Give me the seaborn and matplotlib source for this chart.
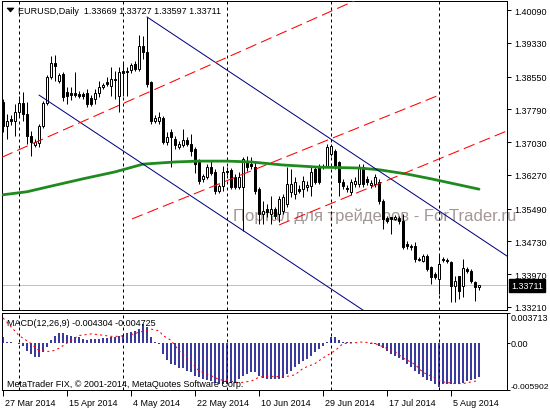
import numpy as np
import matplotlib
matplotlib.use("Agg")
import matplotlib.pyplot as plt
import matplotlib.transforms as mtransforms
from matplotlib.patches import Polygon
import seaborn as sns

sns.set_theme(style="white")
plt.rcParams["font.family"] = ["Liberation Sans", "DejaVu Sans"]
plt.rcParams["axes.linewidth"] = 0.72

W, H = 550, 410
FS = 6.5

# EURUSD daily bars, 27 Mar 2014 .. 13 Aug 2014 (bar 0 .. 119)
opens = [
    1.3796, 1.3740, 1.3757, 1.3752, 1.3773, 1.3794, 1.3768, 1.3717, 1.3696, 1.3701,
    1.3740, 1.3794, 1.3854, 1.3886, 1.3845, 1.3861, 1.3819, 1.3817, 1.3817, 1.3815,
    1.3815, 1.3817, 1.3805, 1.3803, 1.3817, 1.3831, 1.3842, 1.3833, 1.3849, 1.3810,
    1.3868, 1.3868, 1.3870, 1.3884, 1.3872, 1.3926, 1.3912, 1.3842, 1.3752, 1.3752,
    1.3759, 1.3703, 1.3727, 1.3710, 1.3692, 1.3696, 1.3708, 1.3699, 1.3687, 1.3657,
    1.3618, 1.3622, 1.3645, 1.3634, 1.3590, 1.3601, 1.3636, 1.3639, 1.3622, 1.3599,
    1.3599, 1.3659, 1.3652, 1.3645, 1.3594, 1.3537, 1.3548, 1.3537, 1.3548, 1.3537,
    1.3544, 1.3560, 1.3588, 1.3583, 1.3594, 1.3594, 1.3599, 1.3601, 1.3641, 1.3648,
    1.3645, 1.3648, 1.3675, 1.3682, 1.3657, 1.3611, 1.3597, 1.3588, 1.3606, 1.3606,
    1.3645, 1.3618, 1.3604, 1.3606, 1.3611, 1.3567, 1.3527, 1.3530, 1.3525, 1.3527,
    1.3520, 1.3467, 1.3462, 1.3462, 1.3432, 1.3428, 1.3439, 1.3414, 1.3398, 1.3386,
    1.3432, 1.3430, 1.3425, 1.3370, 1.3393, 1.3370, 1.3409, 1.3405, 1.3379, 1.33669,
]
closes = [
    1.3740, 1.3752, 1.3752, 1.3773, 1.3794, 1.3768, 1.3717, 1.3703, 1.3703, 1.3740,
    1.3794, 1.3854, 1.3886, 1.3879, 1.3859, 1.3808, 1.3810, 1.3812, 1.3812, 1.3810,
    1.3810, 1.3791, 1.3791, 1.3817, 1.3831, 1.3835, 1.3838, 1.3849, 1.3847, 1.3865,
    1.3863, 1.3866, 1.3882, 1.3872, 1.3926, 1.3912, 1.3838, 1.3752, 1.3759, 1.3761,
    1.3703, 1.3715, 1.3715, 1.3696, 1.3699, 1.3708, 1.3699, 1.3682, 1.3652, 1.3613,
    1.3625, 1.3645, 1.3632, 1.3590, 1.3601, 1.3634, 1.3634, 1.3599, 1.3599, 1.3622,
    1.3664, 1.3645, 1.3648, 1.3590, 1.3537, 1.3544, 1.3541, 1.3548, 1.3532, 1.3571,
    1.3576, 1.3606, 1.3606, 1.3611, 1.3590, 1.3613, 1.3604, 1.3634, 1.3611, 1.3611,
    1.3648, 1.3692, 1.3694, 1.3648, 1.3611, 1.3601, 1.3594, 1.3611, 1.3613, 1.3645,
    1.3606, 1.3611, 1.3608, 1.3622, 1.3567, 1.3525, 1.3520, 1.3525, 1.3530, 1.3520,
    1.3460, 1.3462, 1.3460, 1.3432, 1.3430, 1.3439, 1.3409, 1.3391, 1.3391, 1.3421,
    1.3430, 1.3428, 1.3370, 1.3381, 1.3358, 1.3412, 1.3405, 1.3381, 1.3367, 1.33711,
]
highs = [
    1.3803, 1.3768, 1.3766, 1.3791, 1.3810, 1.3819, 1.3796, 1.3729, 1.3710, 1.3745,
    1.3798, 1.3859, 1.3903, 1.3905, 1.3863, 1.3865, 1.3831, 1.3831, 1.3865, 1.3821,
    1.3819, 1.3826, 1.3812, 1.3826, 1.3845, 1.3840, 1.3854, 1.3877, 1.3868, 1.3877,
    1.3889, 1.3877, 1.3886, 1.3891, 1.3951, 1.3949, 1.3993, 1.3845, 1.3766, 1.3773,
    1.3764, 1.3727, 1.3733, 1.3717, 1.3706, 1.3733, 1.3715, 1.3722, 1.3692, 1.3664,
    1.3629, 1.3652, 1.3659, 1.3641, 1.3606, 1.3648, 1.3645, 1.3643, 1.3629, 1.3634,
    1.3669, 1.3671, 1.3669, 1.3657, 1.3599, 1.3567, 1.3560, 1.3578, 1.3553, 1.3578,
    1.3583, 1.3645, 1.3641, 1.3622, 1.3604, 1.3625, 1.3613, 1.3648, 1.3648, 1.3652,
    1.3652, 1.3699, 1.3699, 1.3687, 1.3659, 1.3618, 1.3604, 1.3618, 1.3622, 1.3652,
    1.3652, 1.3625, 1.3615, 1.3629, 1.3618, 1.3571, 1.3532, 1.3530, 1.3534, 1.3532,
    1.3537, 1.3474, 1.3467, 1.3472, 1.3437, 1.3444, 1.3444, 1.3416, 1.3402, 1.3444,
    1.3437, 1.3435, 1.3428, 1.3393, 1.3393, 1.3432, 1.3414, 1.3409, 1.3381, 1.33727,
]
lows = [
    1.3727, 1.3710, 1.3743, 1.3717, 1.3764, 1.3752, 1.3699, 1.3671, 1.3692, 1.3692,
    1.3736, 1.3789, 1.3849, 1.3845, 1.3840, 1.3798, 1.3791, 1.3801, 1.3808, 1.3805,
    1.3803, 1.3784, 1.3787, 1.3791, 1.3808, 1.3826, 1.3833, 1.3810, 1.3803, 1.3773,
    1.3810, 1.3810, 1.3863, 1.3868, 1.3868, 1.3896, 1.3831, 1.3745, 1.3747, 1.3745,
    1.3699, 1.3696, 1.3645, 1.3687, 1.3687, 1.3692, 1.3694, 1.3671, 1.3632, 1.3606,
    1.3611, 1.3618, 1.3627, 1.3583, 1.3585, 1.3590, 1.3627, 1.3594, 1.3594, 1.3594,
    1.3497, 1.3636, 1.3641, 1.3583, 1.3513, 1.3513, 1.3530, 1.3513, 1.3525, 1.3518,
    1.3537, 1.3553, 1.3576, 1.3571, 1.3585, 1.3576, 1.3590, 1.3578, 1.3606, 1.3606,
    1.3641, 1.3645, 1.3671, 1.3641, 1.3578, 1.3594, 1.3588, 1.3581, 1.3599, 1.3599,
    1.3599, 1.3604, 1.3597, 1.3599, 1.3560, 1.3502, 1.3516, 1.3490, 1.3523, 1.3513,
    1.3456, 1.3456, 1.3453, 1.3425, 1.3428, 1.3425, 1.3405, 1.3374, 1.3386, 1.3351,
    1.3425, 1.3423, 1.3333, 1.3333, 1.3340, 1.3344, 1.3400, 1.3377, 1.3335, 1.33597,
]

# moving average (green), read at a few bars
ma_idx = [0, 6, 12, 20, 28, 35, 43, 49, 56, 62, 70, 79, 89, 94, 101, 107, 113, 119]
ma_val = [1.3581, 1.3588, 1.3601, 1.3618, 1.3634, 1.3652, 1.3657, 1.3659, 1.3659,
          1.3657, 1.3650, 1.3645, 1.3643, 1.3639, 1.3629, 1.3618, 1.3606, 1.3594]

# MACD(12,26,9) main (histogram) per bar
macd_hist = [
    0.0007, 0.0001, 0.00004, 0.0, -0.0001, -0.0004, -0.0010, -0.0014, -0.0018, -0.0018,
    -0.0012, -0.0005, 0.0003, 0.0009, 0.0012, 0.0012, 0.0010, 0.0009, 0.0007, 0.0007,
    0.0005, 0.0004, 0.0005, 0.0005, 0.0005, 0.0006, 0.0006, 0.0007, 0.0007, 0.0009,
    0.0010, 0.0012, 0.0014, 0.0015, 0.0017, 0.0024, 0.0020, 0.0007, 0.0001, -0.0001,
    -0.0014, -0.0022, -0.0026, -0.0028, -0.0032, -0.0032, -0.0035, -0.0037, -0.0041, -0.0043,
    -0.0045, -0.0047, -0.0048, -0.0050, -0.0051, -0.0051, -0.0051, -0.0050, -0.0050, -0.0045,
    -0.0041, -0.0039, -0.0037, -0.0037, -0.0041, -0.0044, -0.0045, -0.0045, -0.0045, -0.0045,
    -0.0044, -0.0039, -0.0035, -0.0030, -0.0026, -0.0023, -0.0020, -0.0016, -0.0012, -0.0008,
    -0.0004, 0.0001, 0.0007, 0.0007, 0.0003, 0.0001, 0.0001, 0.00004, 0.0, 0.0,
    0.0, -0.00004, -0.0001, -0.0002, -0.0004, -0.0007, -0.0010, -0.0014, -0.0016, -0.0019,
    -0.0022, -0.0026, -0.0030, -0.0035, -0.0039, -0.0043, -0.0046, -0.0048, -0.0052, -0.0055,
    -0.0052, -0.0052, -0.0052, -0.0052, -0.0052, -0.0050, -0.0048, -0.0047, -0.0045, -0.0043,
]
# MACD signal line (red dotted)
sig_idx = [0, 2, 4, 7, 9, 12, 14, 17, 19, 22, 24, 27, 29, 32, 34, 37, 39, 40, 42, 44,
           47, 49, 52, 54, 57, 59, 62, 64, 66, 68, 70, 73, 75, 78, 80, 83, 85, 88, 90,
           93, 95, 98, 100, 103, 105, 108, 110, 113, 115, 118, 119]
sig_val = [0.0031, 0.0020, 0.0009, -0.0001, -0.0010, -0.0011, -0.0007, 0.0003, 0.0009,
           0.0011, 0.0010, 0.0008, 0.0008, 0.0010, 0.0013, 0.0017, 0.0015, 0.0009, 0.0003,
           -0.0010, -0.0024, -0.0035, -0.0041, -0.0046, -0.0048, -0.0050, -0.0048, -0.0043,
           -0.0042, -0.0042, -0.0043, -0.0040, -0.0032, -0.0026, -0.0019, -0.0010, -0.0001,
           0.0, 0.0001, -0.0001, -0.0005, -0.0011, -0.0019, -0.0027, -0.0037, -0.0044,
           -0.0049, -0.0051, -0.0051, -0.0048, -0.0047]

# drawn objects: (bar, price) end points
blue_x = [[36, 126], [9, 95]]
blue_y = [[1.3993, 1.3439], [1.3812, 1.3283]]
red_x = [[-0.25, 89], [32.25, 108.5], [69, 126]]
red_y = [[1.3668, 1.4035], [1.3525, 1.3810], [1.3511, 1.3729]]

sep_idx = [4, 30, 56, 82, 109]
date_idx = [0, 16, 32, 48, 64, 80, 96, 112]
date_lbl = ["27 Mar 2014", "15 Apr 2014", "4 May 2014", "22 May 2014",
            "10 Jun 2014", "29 Jun 2014", "17 Jul 2014", "5 Aug 2014"]
price_ticks = [1.40090, 1.39330, 1.38550, 1.37790, 1.37030,
               1.36270, 1.35490, 1.34730, 1.33970, 1.33210]
macd_ticks = [0.003713, 0.0, -0.005902]
macd_tick_lbl = ["0.003713", "0.00", "-0.005902"]
last_price = 1.33711
title = "EURUSD,Daily  1.33669 1.33727 1.33597 1.33711"

fig = plt.figure(figsize=(W / 100, H / 100), dpi=100)
fig.patch.set_facecolor("white")
ax = fig.add_axes([2 / W, 1 - 311 / H, 505 / W, 309 / H])
ax2 = fig.add_axes([2 / W, 1 - 391 / H, 505 / W, 77 / H])

for a in (ax, ax2):
    a.set_facecolor("white")
    a.grid(False)
    for sp in a.spines.values():
        sp.set_visible(True)
        sp.set_color("black")
        sp.set_linewidth(0.72)
    a.set_xlim(-0.25, 126)
    for s in sep_idx:
        a.axvline(s, color="black", lw=0.72, linestyle=(0, (3, 3)), zorder=2)

# --- price panel
idx = np.arange(len(closes))
o = np.array(opens)
c = np.array(closes)
ax.axhline(last_price, color="#c0c0c0", lw=0.72, zorder=1)
ax.vlines(idx, lows, highs, color="black", linewidth=0.72, zorder=3)
ax.bar(idx, np.maximum(np.abs(c - o), 0.00004), bottom=np.minimum(o, c), width=0.5,
       color=np.where(c >= o, "white", "black"), edgecolor="black", linewidth=0.72, zorder=4)

sns.lineplot(x=ma_idx, y=ma_val, ax=ax, color="#1f8a1f", linewidth=2.0,
             estimator=None, legend=False, zorder=5)
for xs, ys in zip(blue_x, blue_y):
    ax.plot(xs, ys, color="#000080", lw=0.72, zorder=6)
for xs, ys in zip(red_x, red_y):
    ax.plot(xs, ys, color="red", lw=0.75, linestyle=(0, (11, 5)), zorder=6)

ax.set_ylim(1.3314, 1.4030)
ax.set_yticks(price_ticks)
ax.set_yticklabels([f"{p:.5f}" for p in price_ticks])
ax.yaxis.tick_right()
ax.tick_params(axis="y", right=True, left=False, labelright=True, labelleft=False,
               length=3, width=0.72, pad=2, labelsize=FS, colors="black")
ax.tick_params(axis="x", bottom=False, labelbottom=False)
ax.set_xlabel("")
ax.set_ylabel("")

tag_tr = mtransforms.blended_transform_factory(ax.transAxes, ax.transData) + \
    mtransforms.ScaledTranslation(4 / 100, 0, fig.dpi_scale_trans)
ax.text(1.0, last_price, "1.33711", transform=tag_tr, ha="left", va="center",
        fontsize=FS, color="white", clip_on=False, zorder=10,
        bbox=dict(boxstyle="square,pad=0.25", facecolor="black", edgecolor="black"))

ax.text(233 / W, 1 - 216 / H, "Портал для трейдеров - ForTrader.ru",
        transform=fig.transFigure, fontsize=12, color="#a39696", va="center",
        ha="left", clip_on=False, zorder=0.5)

# --- MACD panel
ax2.vlines(idx, 0, macd_hist, color="#000080", linewidth=1.1, zorder=3)
sns.lineplot(x=sig_idx, y=sig_val, ax=ax2, color="red", linewidth=0.75,
             estimator=None, legend=False, zorder=4)
ax2.lines[-1].set_linestyle((0, (2, 3)))
ax2.set_ylim(-0.005902, 0.003713)
ax2.set_yticks(macd_ticks)
ax2.set_yticklabels(macd_tick_lbl)
ax2.yaxis.tick_right()
ax2.tick_params(axis="y", right=True, left=False, labelright=True, labelleft=False,
                length=2, width=0.72, pad=0.8, labelsize=FS, colors="black")
lbls = ax2.get_yticklabels()
lbls[0].set_verticalalignment("top")
lbls[-1].set_verticalalignment("bottom")
lbls[-1].set_fontsize(6.1)

ax2.set_xticks(date_idx)
ax2.set_xticklabels(date_lbl)
ax2.tick_params(axis="x", bottom=True, length=4, width=0.72, pad=1.5,
                labelsize=FS, colors="black")
shift = mtransforms.ScaledTranslation(2 / 100, 0, fig.dpi_scale_trans)
for lb in ax2.get_xticklabels():
    lb.set_horizontalalignment("left")
    lb.set_transform(lb.get_transform() + shift)
ax2.set_xlabel("")
ax2.set_ylabel("")

# --- header texts
fig.add_artist(Polygon([[7 / W, 1 - 9 / H], [14 / W, 1 - 9 / H], [10.5 / W, 1 - 13 / H]],
                       closed=True, facecolor="black", edgecolor="black", lw=0.5,
                       transform=fig.transFigure))
fig.text(18 / W, 1 - 11 / H, title, fontsize=FS, color="black", va="center", ha="left")
fig.text(7 / W, 1 - 324 / H, "MACD(12,26,9) -0.004304 -0.004725", fontsize=FS,
         color="black", va="center", ha="left")
fig.text(7 / W, 1 - 385 / H, "MetaTrader FIX, © 2001-2014, MetaQuotes Software Corp.",
         fontsize=FS, color="black", va="center", ha="left")

fig.savefig("out.png", dpi=100)
